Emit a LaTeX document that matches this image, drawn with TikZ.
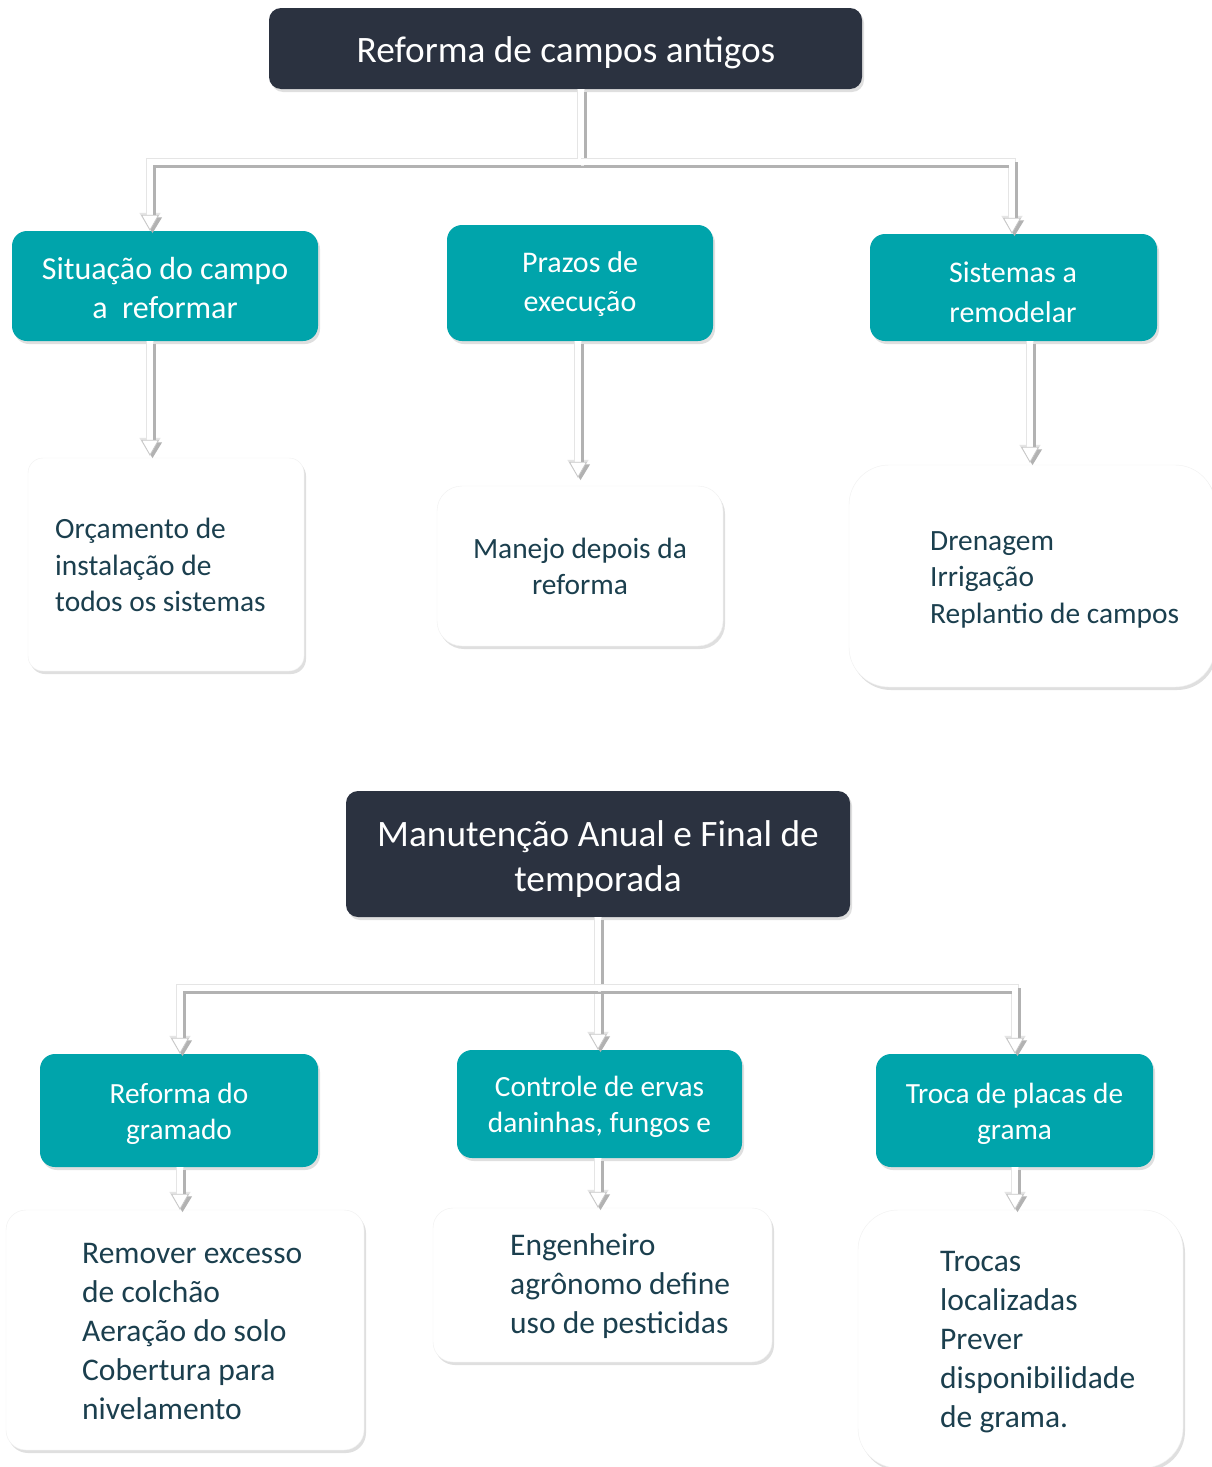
\documentclass[tikz,border=0pt]{standalone}
\usepackage{fontspec}
\setmainfont{Carlito}
\usetikzlibrary{arrows.meta,shadows}
\definecolor{darkbox}{HTML}{2B3240}
\definecolor{tealbox}{HTML}{00A4AB}
\definecolor{bodyink}{HTML}{1B3F4E}
\newcommand\linkpath[1]{\draw[linkedge] #1; \draw[linkshade] #1; \draw[linkline] #1;}
\begin{document}
\begin{tikzpicture}[x=1pt,y=-1pt, line join=miter,
  shadowed/.style={drop shadow={shadow xshift=2pt,shadow yshift=-3pt,opacity=0.25}},
  titlebox/.style={shadowed, fill=darkbox, rounded corners=12pt, inner sep=0pt},
  titletext/.style={inner sep=0pt, text=white, align=center, font=\fontsize{37.3}{45}\selectfont},
  tealnode/.style={shadowed, fill=tealbox, rounded corners=15pt, inner sep=0pt},
  tealtext/.style={inner sep=0pt, text=white, align=center},
  whitenode/.style={shadowed, fill=white, draw=black!6, rounded corners=#1, inner sep=0pt},
  bodytext/.style={inner sep=0pt, text=bodyink, align=left},
  linkedge/.style={draw=black!10, line width=8pt, -{Triangle[width=20pt,length=18pt]}},
  linkshade/.style={draw=black!30, line width=6pt, transform canvas={shift={(2.5pt,-2.5pt)}},
     -{Triangle[width=18pt,length=16pt]}},
  linkline/.style={draw=white, line width=6pt,
     -{Triangle[width=18pt,length=16pt,fill=white,color=black!22,line width=0.8pt]}}]
\useasboundingbox[fill=white] (0,0) rectangle (1211,1467);

% ---------- top diagram ----------
\node[titlebox, minimum width=593pt, minimum height=81pt] (t1) at (565.5,48.5) {};
\node[titletext] (t1t) at (566,52.5) {Reforma de campos antigos};

\node[tealnode, minimum width=306pt, minimum height=110pt] (ta) at (165,286) {};
\node[tealtext, font=\fontsize{32}{39}\selectfont] (tat) at (165,288) {Situação do campo\\a\ \ reformar};
\node[tealnode, minimum width=266pt, minimum height=116pt] (tb) at (580,283) {};
\node[tealtext, font=\fontsize{30}{39}\selectfont] (tbt) at (580,284) {Prazos de\\execução};
\node[tealnode, minimum width=287pt, minimum height=107pt] (tc) at (1013.5,287.5) {};
\node[tealtext, font=\fontsize{30}{40}\selectfont] (tct) at (1013,292.5) {Sistemas a\\remodelar};

\node[whitenode=15pt, minimum width=276pt, minimum height=213pt] (wa) at (166,564.5) {};
\node[bodytext, anchor=west, font=\fontsize{29.4}{36.5}\selectfont] (wat) at (55,565)
  {Orçamento de\\instalação de\\todos os sistemas};

\node[whitenode=25pt, minimum width=286pt, minimum height=160pt] (wb) at (580,566) {};
\node[bodytext, align=center, font=\fontsize{29.4}{36.5}\selectfont] (wbt) at (580,566.5) {Manejo depois da\\reforma};

\node[whitenode=40pt, minimum width=366pt, minimum height=222pt] (wc) at (1032,576) {};
\node[bodytext, anchor=west, font=\fontsize{29.4}{36.5}\selectfont] (wct) at (930,579.5)
  {Drenagem\\Irrigação\\Replantio de campos};

\coordinate (j1) at (581,162);
\linkpath{(j1 |- t1.south) -- (j1) -| (ta.north -| 150,0)}
\linkpath{(j1) -| (tc.north -| 1012,0)}
\linkpath{(ta.south -| 150,0) -- ([yshift=2pt]wa.north -| 150,0)}
\linkpath{(tb.south -| 578,0) -- ([yshift=8pt]wb.north -| 578,0)}
\linkpath{(tc.south -| 1030,0) -- ([yshift=2pt]wc.north -| 1030,0)}

% ---------- bottom diagram ----------
\node[titlebox, minimum width=504pt, minimum height=126pt] (t2) at (598,854) {};
\node[titletext] (t2t) at (598,859.5) {Manutenção Anual e Final de\\temporada};

\node[tealnode, minimum width=278pt, minimum height=113pt] (td) at (179,1110.5) {};
\node[tealtext, font=\fontsize{29.3}{36}\selectfont] (tdt) at (179,1114) {Reforma do\\gramado};
\node[tealnode, minimum width=285pt, minimum height=108pt] (te) at (599.5,1104) {};
\node[tealtext, font=\fontsize{29.3}{36}\selectfont] (tet) at (599.5,1107) {Controle de ervas\\daninhas, fungos e};
\node[tealnode, minimum width=277pt, minimum height=113pt] (tf) at (1014.5,1110.5) {};
\node[tealtext, font=\fontsize{29.3}{36}\selectfont] (tft) at (1014.5,1114) {Troca de placas de\\grama};

\node[whitenode=20pt, minimum width=358pt, minimum height=240pt] (wd) at (185,1330) {};
\node[bodytext, anchor=west, font=\fontsize{31.5}{39}\selectfont] (wdt) at (82,1331)
  {Remover excesso\\de colchão\\Aeração do solo\\Cobertura para\\nivelamento};

\node[whitenode=20pt, minimum width=339pt, minimum height=154pt] (we) at (602.5,1285) {};
\node[bodytext, anchor=west, font=\fontsize{31.5}{39}\selectfont] (wet) at (510,1286)
  {Engenheiro\\agrônomo define\\uso de pesticidas};

\node[whitenode=40pt, minimum width=325pt, minimum height=258pt] (wf) at (1020.5,1339) {};
\node[bodytext, anchor=west, font=\fontsize{31.5}{39}\selectfont] (wft) at (940,1342)
  {Trocas\\localizadas\\Prever\\disponibilidade\\de grama.};

\coordinate (j2) at (598,988);
\linkpath{(j2 |- t2.south) -- (te.north -| j2)}
\linkpath{(j2) -| (td.north -| 180,0)}
\linkpath{(j2) -| (tf.north -| 1015,0)}
\linkpath{(td.south -| 180,0) -- (wd.north -| 180,0)}
\linkpath{(te.south -| 598,0) -- (we.north -| 598,0)}
\linkpath{(tf.south -| 1015,0) -- (wf.north -| 1015,0)}
\end{tikzpicture}
\end{document}
